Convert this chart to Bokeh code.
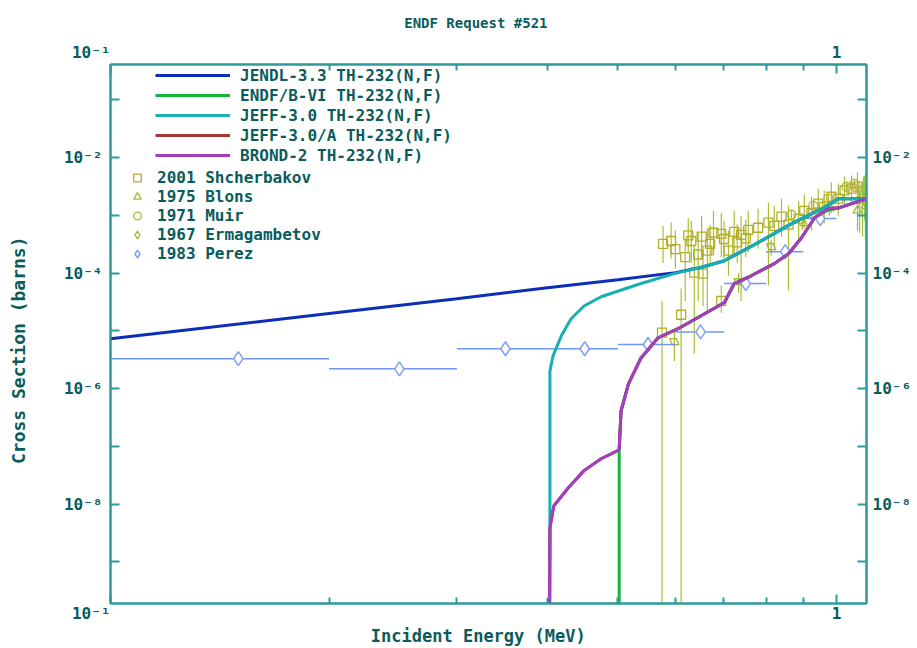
from bokeh.plotting import figure
from bokeh.models import FixedTicker, Legend, LegendItem, LogAxis, Range1d
from bokeh.embed import file_html
from bokeh.resources import INLINE

# ---------------- data ----------------
# Evaluations (energy MeV, cross section barns)
jendl_E = [0.1, 0.2, 0.3, 0.4, 0.5, 0.6, 0.65, 0.701, 0.780, 0.867, 0.962, 1.006, 1.1]
jendl_xs = [7.3e-6, 2.0e-5, 3.6e-5, 5.6e-5, 7.7e-5, 1.02e-4, 1.25e-4, 1.64e-4, 3.37e-4, 7.2e-4, 1.36e-3, 1.95e-3, 1.95e-3]

endf_E = [0.502, 0.502, 0.505, 0.517, 0.538, 0.568, 0.605, 0.651, 0.701, 0.723, 0.763, 0.821, 0.859, 0.895, 0.933, 0.962, 0.975, 1.01, 1.06, 1.1]
endf_xs = [1e-11, 8.7e-8, 4.1e-7, 1.21e-6, 3.4e-6, 7.6e-6, 1.09e-5, 1.83e-5, 3.1e-5, 6.6e-5, 9.0e-5, 1.46e-4, 2.17e-4, 4.1e-4, 9.1e-4, 1.15e-3, 1.25e-3, 1.36e-3, 1.66e-3, 1.95e-3]

jeff_E = [0.403, 0.403, 0.407, 0.418, 0.431, 0.449, 0.474, 0.538, 0.598, 0.650, 0.701, 0.780, 0.867, 0.962, 1.006, 1.1]
jeff_xs = [1e-11, 2.0e-6, 3.7e-6, 8.3e-6, 1.62e-5, 2.7e-5, 3.9e-5, 6.6e-5, 9.8e-5, 1.25e-4, 1.64e-4, 3.37e-4, 7.2e-4, 1.36e-3, 1.95e-3, 1.95e-3]

brond_E = [0.402, 0.403, 0.408, 0.427, 0.449, 0.474, 0.502, 0.505, 0.517, 0.538, 0.568, 0.605, 0.651, 0.701, 0.723, 0.763, 0.821, 0.859, 0.895, 0.933, 0.975, 1.01, 1.06, 1.1]
brond_xs = [1e-11, 3.9e-9, 9.3e-9, 1.9e-8, 3.8e-8, 6.1e-8, 8.7e-8, 4.1e-7, 1.21e-6, 3.4e-6, 7.6e-6, 1.09e-5, 1.83e-5, 3.1e-5, 6.6e-5, 9.0e-5, 1.46e-4, 2.17e-4, 4.1e-4, 9.1e-4, 1.31e-3, 1.36e-3, 1.66e-3, 1.95e-3]

jeffa_E = list(brond_E)
jeffa_xs = list(brond_xs)

# Experimental data
shch_E = [0.577, 0.592, 0.600, 0.619, 0.625, 0.631, 0.645, 0.652, 0.664, 0.670, 0.677, 0.694, 0.700, 0.710, 0.723, 0.730,
          0.739, 0.750, 0.756, 0.780, 0.806, 0.821, 0.840,
          0.859, 0.887, 0.903, 0.924, 0.944, 0.962, 0.984, 1.006, 1.026, 1.049, 1.069, 1.089, 0.575, 0.611, 0.637, 0.655, 0.694]
shch_xs = [3.2e-4, 3.6e-4, 2.6e-4, 1.9e-4, 4.5e-4, 3.6e-4, 2.1e-4, 4.3e-4, 2.45e-4, 3.2e-4, 5.0e-4, 4.8e-4, 3.9e-4, 2.45e-4,
           5.2e-4, 3.4e-4, 4.6e-4, 4.0e-4, 5.6e-4, 6.1e-4, 7.5e-4,
           6.6e-4, 9.5e-4, 6.9e-4, 8.8e-4, 1.2e-3, 1.1e-3, 1.6e-3, 1.4e-3, 2.1e-3, 1.95e-3, 2.7e-3, 2.9e-3, 3.15e-3, 2.7e-3,
           9.3e-6, 1.9e-5, 1.02e-4, 9.8e-5, 3.3e-5]
shch_lo = [1.5e-4, 1.8e-4, 1.2e-4, 3.3e-5, 2.2e-4, 1.5e-4, 3.3e-5, 1.8e-4, 2.2e-5, 1.5e-4, 2.0e-4, 1.9e-4, 1.8e-4, 9.0e-5,
           2.0e-4, 1.5e-4, 3.3e-5, 1.9e-4, 2.3e-4, 2.65e-4, 6.1e-5,
           2.75e-4, 4.3e-4, 5.0e-5, 4.0e-4, 5.9e-4, 5.4e-4, 8.1e-4, 7.2e-4, 1.1e-3, 9.9e-4, 1.47e-3, 1.6e-3, 1.8e-3, 1.47e-3,
           1e-11, 1e-11, 4.0e-6, 2.7e-5, 2.06e-5]
shch_hi = [6.6e-4, 7.5e-4, 5.5e-4, 4.0e-4, 9.0e-4, 8.1e-4, 5.0e-4, 9.9e-4, 5.9e-4, 6.8e-4, 1.2e-3, 1.1e-3, 8.0e-4, 5.4e-4,
           1.2e-3, 7.0e-4, 9.9e-4, 8.5e-4, 1.2e-3, 1.3e-3, 1.66e-3,
           1.47e-3, 1.95e-3, 1.47e-3, 1.8e-3, 2.3e-3, 2.1e-3, 2.9e-3, 2.7e-3, 3.7e-3, 3.55e-3, 4.7e-3, 4.9e-3, 5.5e-3, 4.7e-3,
           3.3e-5, 5.4e-5, 3.0e-4, 2.45e-4, 6.1e-5]

blons_E = [1.069, 1.076, 1.086, 1.093, 1.096]
blons_xs = [1.21e-3, 1.80e-3, 2.19e-3, 3.27e-3, 1.47e-3]
blons_lo = [5.4e-4, 5.0e-4, 4.3e-4, 8.1e-4, 3.95e-4]
blons_hi = [2.19e-3, 2.9e-3, 3.27e-3, 4.9e-3, 2.68e-3]

muir_E = [0.867, 0.929, 0.975, 1.032, 1.059]
muir_xs = [1.03e-3, 1.47e-3, 1.95e-3, 3.15e-3, 3.55e-3]
muir_lo = [8.3e-4, 1.2e-3, 1.6e-3, 2.6e-3, 2.9e-3]
muir_hi = [1.25e-3, 1.75e-3, 2.3e-3, 3.7e-3, 4.2e-3]

erm_E = [0.598, 0.733, 0.813, 0.898, 0.978]
erm_xs = [6.5e-6, 7.1e-5, 2.87e-4, 7.5e-4, 1.36e-3]
erm_lo = [3.0e-6, 4.5e-5, 2.0e-4, 5.5e-4, 1.0e-3]
erm_hi = [1.0e-5, 1.0e-4, 3.8e-4, 9.5e-4, 1.7e-3]

perez_E = [0.15, 0.25, 0.35, 0.45, 0.55, 0.65, 0.75, 0.85, 0.95]
perez_Elo = [0.1, 0.2, 0.3, 0.4, 0.5, 0.6, 0.7, 0.8, 0.9]
perez_Ehi = [0.2, 0.3, 0.4, 0.5, 0.6, 0.7, 0.8, 0.9, 1.0]
perez_xs = [3.3e-6, 2.2e-6, 4.9e-6, 4.9e-6, 5.8e-6, 9.6e-6, 6.6e-5, 2.35e-4, 8.8e-4]

x_ticks = [0.1, 1.0]
x_minor = [0.2, 0.3, 0.4, 0.5, 0.6, 0.7, 0.8, 0.9]
x_labels = {0.1: "10\u207b\u00b9\u00a0\u00a0\u00a0\u00a0", 1.0: "1"}
y_ticks = [1e-8, 1e-6, 1e-4, 1e-2]
y_minor = [1e-9, 1e-7, 1e-5, 1e-3, 1e-1]
y_labels = {1e-8: "10\u207b\u2078", 1e-6: "10\u207b\u2076", 1e-4: "10\u207b\u2074", 1e-2: "10\u207b\u00b2"}

# ---------------- style ----------------
FONT = "DejaVu Sans Mono"
TXT = "#0a5c5c"
AX = "#2e9a9a"

p = figure(width=917, height=648, x_axis_type="log", y_axis_type="log",
           x_range=Range1d(0.1, 1.1), y_range=Range1d(1.9e-10, 0.41),
           output_backend="svg", toolbar_location=None,
           min_border_left=110, min_border_right=51, min_border_top=64, min_border_bottom=45,
           background_fill_color="white", border_fill_color="white")

p.title.text = "ENDF Request #521\u00a0\u00a0\u00a0"
p.title.align = "center"
p.title.text_font = FONT
p.title.text_font_size = "14px"
p.title.text_font_style = "bold"
p.title.text_color = TXT
p.title.standoff = 18

p.grid.visible = False
p.outline_line_color = AX
p.outline_line_width = 2

top_axis = LogAxis()
right_axis = LogAxis()
p.add_layout(top_axis, "above")
p.add_layout(right_axis, "right")
bottom_axis = p.below[0]
left_axis = p.left[0]

for ax in (top_axis, bottom_axis):
    ax.ticker = FixedTicker(ticks=x_ticks, minor_ticks=x_minor)
    ax.major_label_overrides = x_labels
    ax.minor_tick_in = 6
top_axis.major_label_standoff = 3
bottom_axis.major_label_standoff = 0
for ax in (left_axis, right_axis):
    ax.ticker = FixedTicker(ticks=y_ticks, minor_ticks=y_minor)
    ax.major_label_overrides = y_labels
    ax.minor_tick_in = 9
left_axis.major_label_standoff = 8
right_axis.major_label_standoff = 6

for ax in (top_axis, bottom_axis, left_axis, right_axis):
    ax.axis_line_color = AX
    ax.axis_line_width = 2
    ax.major_tick_line_color = AX
    ax.minor_tick_line_color = AX
    ax.major_tick_line_width = 2
    ax.minor_tick_line_width = 2
    ax.major_tick_in = 9
    ax.major_tick_out = 0
    ax.minor_tick_out = 0
    ax.major_label_text_font = FONT
    ax.major_label_text_font_style = "bold"
    ax.major_label_text_font_size = "16px"
    ax.major_label_text_color = TXT
    ax.axis_label_text_font = FONT
    ax.axis_label_text_font_style = "bold"
    ax.axis_label_text_color = TXT

bottom_axis.axis_label = "Incident Energy (MeV)\u00a0\u00a0"
bottom_axis.axis_label_text_font_size = "17px"
bottom_axis.axis_label_standoff = 0
left_axis.axis_label = "Cross Section (barns)\u00a0\u00a0\u00a0"
left_axis.axis_label_text_font_size = "18px"
left_axis.axis_label_standoff = 32

# ---------------- experimental data ----------------
p.segment(x0=shch_E, y0=shch_lo, x1=shch_E, y1=shch_hi, line_color="#a8c030", line_width=1.2)
r_shch = p.scatter(shch_E, shch_xs, marker="square", size=9, fill_alpha=0, line_color="#b4ac28", line_width=1.3)
p.segment(x0=blons_E, y0=blons_lo, x1=blons_E, y1=blons_hi, line_color="#9cc040", line_width=1.2)
r_blons = p.scatter(blons_E, blons_xs, marker="triangle", size=9, fill_alpha=0, line_color="#a0bc38", line_width=1.3)
p.segment(x0=muir_E, y0=muir_lo, x1=muir_E, y1=muir_hi, line_color="#b0b840", line_width=1.2)
r_muir = p.scatter(muir_E, muir_xs, marker="circle", size=9, fill_alpha=0, line_color="#b4b43c", line_width=1.3)
p.segment(x0=erm_E, y0=erm_lo, x1=erm_E, y1=erm_hi, line_color="#a8b830", line_width=1.2)
r_erm = p.scatter(erm_E, erm_xs, marker="diamond", size=11, angle=1.0, fill_alpha=0, line_color="#a8b430", line_width=1.3)
p.segment(x0=perez_Elo, y0=perez_xs, x1=perez_Ehi, y1=perez_xs, line_color="#6f98f4", line_width=1.5)
r_perez = p.scatter(perez_E, perez_xs, marker="diamond", size=14, fill_color="white", line_color="#7f9ff7", line_width=1.5)

# ---------------- evaluations ----------------
r_jendl = p.line(jendl_E, jendl_xs, line_color="#0b2fb8", line_width=3)
r_endf = p.line(endf_E, endf_xs, line_color="#16b43c", line_width=3)
r_jeff = p.line(jeff_E, jeff_xs, line_color="#14b0b4", line_width=3)
r_jeffa = p.line(jeffa_E, jeffa_xs, line_color="#a83838", line_width=3)
r_brond = p.line(brond_E, brond_xs, line_color="#a040c0", line_width=3)

common = dict(border_line_alpha=0, background_fill_alpha=0, padding=0, spacing=0, margin=0,
              label_text_font=FONT, label_text_font_style="bold", label_text_font_size="16px",
              label_text_color=TXT, label_standoff=10)

leg_lines = Legend(items=[
    LegendItem(label="JENDL-3.3 TH-232(N,F)", renderers=[r_jendl]),
    LegendItem(label="ENDF/B-VI TH-232(N,F)", renderers=[r_endf]),
    LegendItem(label="JEFF-3.0 TH-232(N,F)", renderers=[r_jeff]),
    LegendItem(label="JEFF-3.0/A TH-232(N,F)", renderers=[r_jeffa]),
    LegendItem(label="BROND-2 TH-232(N,F)", renderers=[r_brond]),
], location=(45, 438), glyph_width=75, glyph_height=20, **common)

leg_exp = Legend(items=[
    LegendItem(label="2001 Shcherbakov", renderers=[r_shch]),
    LegendItem(label="1975 Blons", renderers=[r_blons]),
    LegendItem(label="1971 Muir", renderers=[r_muir]),
    LegendItem(label="1967 Ermagambetov", renderers=[r_erm]),
    LegendItem(label="1983 Perez", renderers=[r_perez]),
], location=(17, 340), glyph_width=20, glyph_height=19, **common)

p.add_layout(leg_lines)
p.add_layout(leg_exp)

open("out.html", "w").write(file_html(p, INLINE))
